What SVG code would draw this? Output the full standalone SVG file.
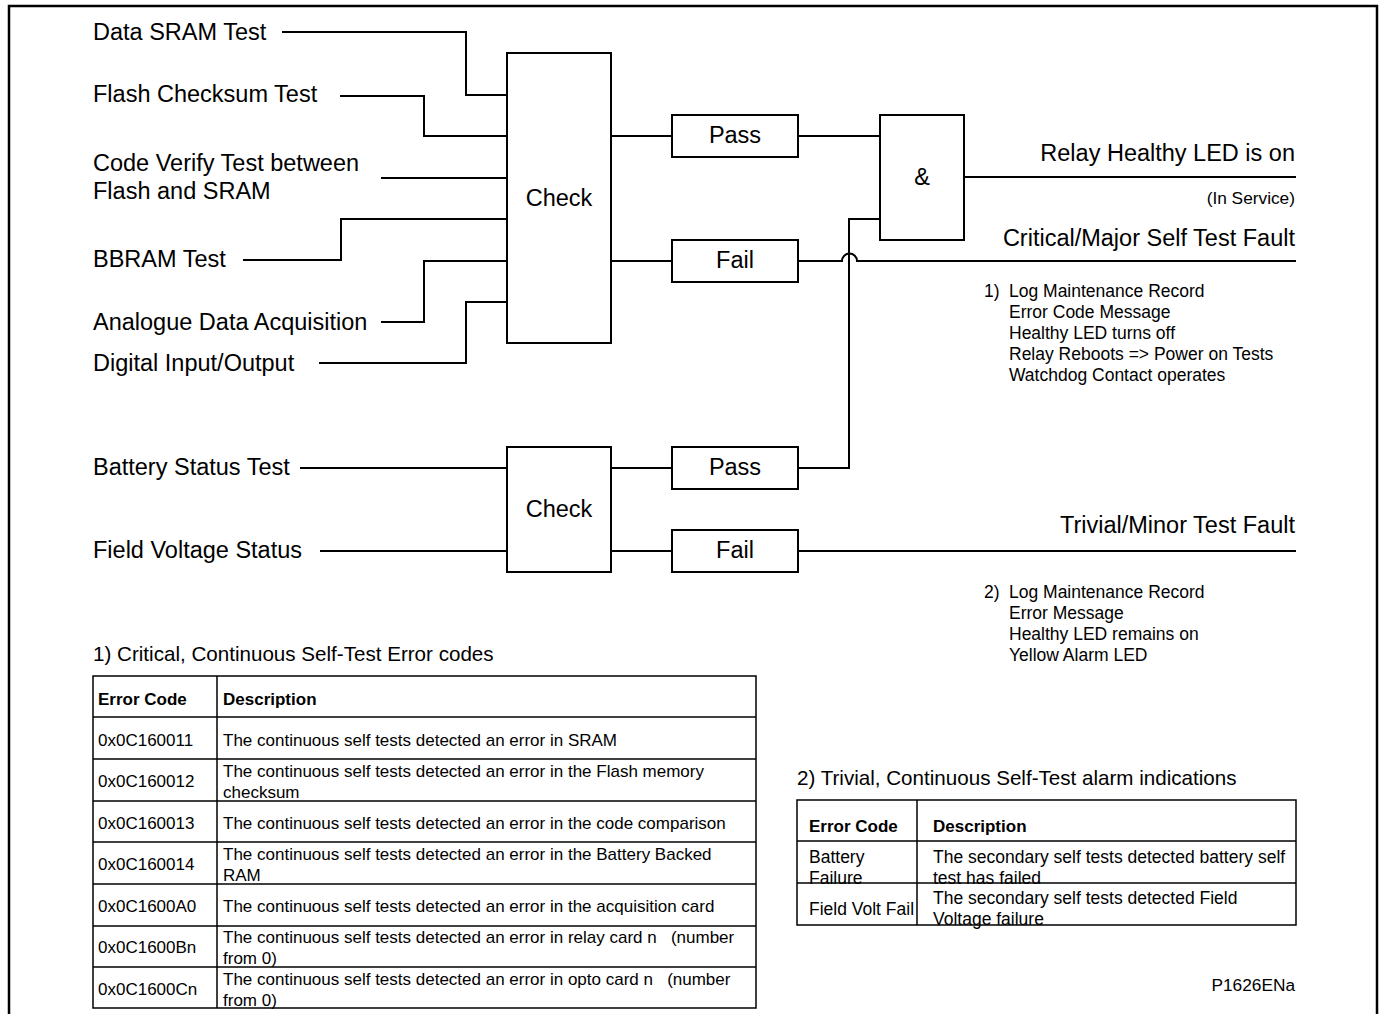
<svg xmlns="http://www.w3.org/2000/svg" width="1380" height="1014" viewBox="0 0 1380 1014">
  <style>
    text { font-family: "Liberation Sans", Arial, sans-serif; fill: #000; }
    .lbl { font-size: 23.5px; }
    .mid { text-anchor: middle; }
    .end { text-anchor: end; }
    .note { font-size: 17.5px; }
    .small { font-size: 17.3px; }
    .cap { font-size: 20.6px; }
    .cell { font-size: 17px; }
    .cell2 { font-size: 17.5px; }
    .hdr { font-size: 17px; font-weight: bold; }
    .box { fill: #fff; stroke: #000; stroke-width: 2; }
    .wire { fill: none; stroke: #000; stroke-width: 2; }
    .grid { fill: none; stroke: #000; stroke-width: 1.5; }
  </style>

  <!-- frame -->
  <rect x="9" y="6" width="1368" height="1030" fill="#fff" stroke="#000" stroke-width="2.5"/>

  <!-- connectors -->
  <g id="connectors" class="wire">
    <polyline points="282,32 466,32 466,95 507,95"/>
    <polyline points="340,96 424,96 424,136 507,136"/>
    <polyline points="381,178 507,178"/>
    <polyline points="243,260 341,260 341,219 507,219"/>
    <polyline points="381,322 424,322 424,261 507,261"/>
    <polyline points="319,363 466,363 466,302 507,302"/>
    <polyline points="611,136 672,136"/>
    <polyline points="611,261 672,261"/>
    <polyline points="798,136 880,136"/>
    <polyline points="964,177 1296,177"/>
    <path d="M798,261 H842 A7.5,7.5 0 0 1 857,261 H1296"/>
    <polyline points="880,219 849,219 849,468 798,468"/>
    <polyline points="300,468 507,468"/>
    <polyline points="320,551 507,551"/>
    <polyline points="611,468 672,468"/>
    <polyline points="611,551 672,551"/>
    <polyline points="798,551 1296,551"/>
  </g>

  <!-- inputs -->
  <g id="in-data-sram"><text class="lbl" x="93" y="40">Data SRAM Test</text></g>
  <g id="in-flash-checksum"><text class="lbl" x="93" y="102">Flash Checksum Test</text></g>
  <g id="in-code-verify">
    <text class="lbl" x="93" y="171">Code Verify Test between</text>
    <text class="lbl" x="93" y="199">Flash and SRAM</text>
  </g>
  <g id="in-bbram"><text class="lbl" x="93" y="267">BBRAM Test</text></g>
  <g id="in-analogue"><text class="lbl" x="93" y="330">Analogue Data Acquisition</text></g>
  <g id="in-digital-io"><text class="lbl" x="93" y="371">Digital Input/Output</text></g>
  <g id="in-battery"><text class="lbl" x="93" y="475">Battery Status Test</text></g>
  <g id="in-field-voltage"><text class="lbl" x="93" y="558">Field Voltage Status</text></g>

  <!-- logic blocks -->
  <g id="check-main">
    <rect class="box" x="507" y="53" width="104" height="290"/>
    <text class="lbl mid" x="559" y="206">Check</text>
  </g>
  <g id="pass-main">
    <rect class="box" x="672" y="115" width="126" height="42"/>
    <text class="lbl mid" x="735" y="143">Pass</text>
  </g>
  <g id="fail-main">
    <rect class="box" x="672" y="240" width="126" height="42"/>
    <text class="lbl mid" x="735" y="268">Fail</text>
  </g>
  <g id="and-gate">
    <rect class="box" x="880" y="115" width="84" height="125"/>
    <text class="lbl mid" x="922" y="185">&amp;</text>
  </g>
  <g id="check-secondary">
    <rect class="box" x="507" y="447" width="104" height="125"/>
    <text class="lbl mid" x="559" y="517">Check</text>
  </g>
  <g id="pass-secondary">
    <rect class="box" x="672" y="447" width="126" height="42"/>
    <text class="lbl mid" x="735" y="475">Pass</text>
  </g>
  <g id="fail-secondary">
    <rect class="box" x="672" y="530" width="126" height="42"/>
    <text class="lbl mid" x="735" y="558">Fail</text>
  </g>

  <!-- outputs -->
  <g id="out-healthy">
    <text class="lbl end" x="1295" y="161">Relay Healthy LED is on</text>
    <text class="small end" x="1295" y="204">(In Service)</text>
  </g>
  <g id="out-critical">
    <text class="lbl end" x="1295" y="246">Critical/Major Self Test Fault</text>
    <text class="note" x="984" y="297">1)</text>
    <text class="note" x="1009" y="297">Log Maintenance Record</text>
    <text class="note" x="1009" y="318">Error Code Message</text>
    <text class="note" x="1009" y="339">Healthy LED turns off</text>
    <text class="note" x="1009" y="360">Relay Reboots =&gt; Power on Tests</text>
    <text class="note" x="1009" y="381">Watchdog Contact operates</text>
  </g>
  <g id="out-trivial">
    <text class="lbl end" x="1295" y="533">Trivial/Minor Test Fault</text>
    <text class="note" x="984" y="598">2)</text>
    <text class="note" x="1009" y="598">Log Maintenance Record</text>
    <text class="note" x="1009" y="619">Error Message</text>
    <text class="note" x="1009" y="640">Healthy LED remains on</text>
    <text class="note" x="1009" y="661">Yellow Alarm LED</text>
  </g>

  <!-- table 1: critical error codes -->
  <g id="table-critical">
    <text class="cap" x="93" y="661">1) Critical, Continuous Self-Test Error codes</text>
    <rect class="grid" x="93" y="676" width="663" height="332"/>
    <line class="grid" x1="217" y1="676" x2="217" y2="1008"/>
    <line class="grid" x1="93" y1="717" x2="756" y2="717"/>
    <line class="grid" x1="93" y1="759" x2="756" y2="759"/>
    <line class="grid" x1="93" y1="801" x2="756" y2="801"/>
    <line class="grid" x1="93" y1="842" x2="756" y2="842"/>
    <line class="grid" x1="93" y1="884" x2="756" y2="884"/>
    <line class="grid" x1="93" y1="926" x2="756" y2="926"/>
    <line class="grid" x1="93" y1="967" x2="756" y2="967"/>
    <text class="hdr" x="98" y="705">Error Code</text>
    <text class="hdr" x="223" y="705">Description</text>
    <text class="cell" x="98" y="746">0x0C160011</text>
    <text class="cell" x="223" y="746">The continuous self tests detected an error in SRAM</text>
    <text class="cell" x="98" y="787">0x0C160012</text>
    <text class="cell" x="223" y="777">The continuous self tests detected an error in the Flash memory</text>
    <text class="cell" x="223" y="798">checksum</text>
    <text class="cell" x="98" y="829">0x0C160013</text>
    <text class="cell" x="223" y="829">The continuous self tests detected an error in the code comparison</text>
    <text class="cell" x="98" y="870">0x0C160014</text>
    <text class="cell" x="223" y="860">The continuous self tests detected an error in the Battery Backed</text>
    <text class="cell" x="223" y="881">RAM</text>
    <text class="cell" x="98" y="912">0x0C1600A0</text>
    <text class="cell" x="223" y="912">The continuous self tests detected an error in the acquisition card</text>
    <text class="cell" x="98" y="953">0x0C1600Bn</text>
    <text class="cell" x="223" y="943">The continuous self tests detected an error in relay card n&#160;&#160;&#160;(number</text>
    <text class="cell" x="223" y="964">from 0)</text>
    <text class="cell" x="98" y="995">0x0C1600Cn</text>
    <text class="cell" x="223" y="985">The continuous self tests detected an error in opto card n&#160;&#160;&#160;(number</text>
    <text class="cell" x="223" y="1006">from 0)</text>
  </g>

  <!-- table 2: trivial alarm indications -->
  <g id="table-trivial">
    <text class="cap" x="797" y="785">2) Trivial, Continuous Self-Test alarm indications</text>
    <rect class="grid" x="797" y="800" width="499" height="125"/>
    <line class="grid" x1="917" y1="800" x2="917" y2="925"/>
    <line class="grid" x1="797" y1="841" x2="1296" y2="841"/>
    <line class="grid" x1="797" y1="883" x2="1296" y2="883"/>
    <text class="hdr" x="809" y="832">Error Code</text>
    <text class="hdr" x="933" y="832">Description</text>
    <text class="cell2" x="809" y="863">Battery</text>
    <text class="cell2" x="809" y="884">Failure</text>
    <text class="cell2" x="933" y="863">The secondary self tests detected battery self</text>
    <text class="cell2" x="933" y="884">test has failed</text>
    <text class="cell2" x="809" y="915">Field Volt Fail</text>
    <text class="cell2" x="933" y="904">The secondary self tests detected Field</text>
    <text class="cell2" x="933" y="925">Voltage failure</text>
  </g>

  <g id="figure-ref"><text class="small end" x="1295" y="991">P1626ENa</text></g>
</svg>
